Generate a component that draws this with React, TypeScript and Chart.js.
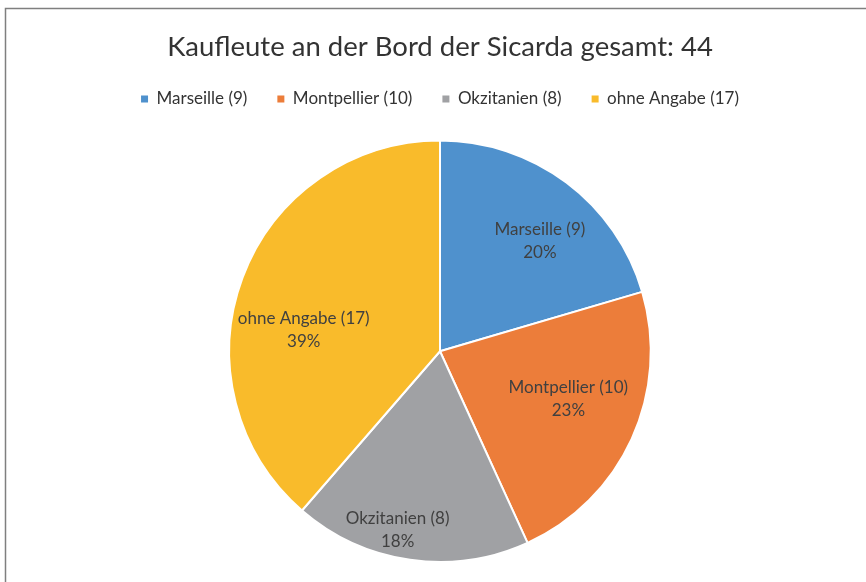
import React, { useEffect, useRef } from "react";
import { Chart, registerables } from "chart.js";

Chart.register(...registerables);

const categories = ["Marseille", "Montpellier", "Okzitanien", "ohne Angabe"];
const values = [9, 10, 8, 17];
const colors = ["#4f91cd", "#ec7d3a", "#a0a1a4", "#f9bb2b"];
const titlePrefix = "Kaufleute an der Bord der Sicarda gesamt: ";

// label placement tweaks (fraction of radius + pixel nudge), like Excel's "best fit"
const labelRadiusFrac = 0.68;
const labelNudges: [number, number][] = [
  [14, 4],
  [-2, -12],
  [-22, 37],
  [-2, 29],
];

const FONT = "Lato, 'Open Sans', sans-serif";

export default function App() {
  const ref = useRef<HTMLCanvasElement | null>(null);

  useEffect(() => {
    document.body.style.margin = "0";
    const canvas = ref.current!;
    const total = values.reduce((a, b) => a + b, 0);

    const frame = {
      id: "frame",
      beforeDraw(chart: any) {
        const ctx = chart.ctx;
        ctx.save();
        ctx.fillStyle = "#ffffff";
        ctx.fillRect(0, 0, chart.width, chart.height);
        ctx.strokeStyle = "#7f7f7f";
        ctx.lineWidth = 1.5;
        ctx.strokeRect(5.5, 8.5, chart.width + 20, chart.height + 20);
        ctx.restore();
      },
    };

    const legendSpace = {
      id: "legendSpace",
      beforeInit(chart: any) {
        const lg = chart.legend;
        if (lg) {
          const orig = lg.fit;
          lg.fit = function () {
            orig.call(this);
            this.height += 22;
          };
        }
      },
    };

    const sliceLabels = {
      id: "sliceLabels",
      afterDatasetsDraw(chart: any) {
        const ctx = chart.ctx;
        const meta = chart.getDatasetMeta(0);
        ctx.save();
        ctx.fillStyle = "#404040";
        ctx.font = `17px ${FONT}`;
        ctx.textAlign = "center";
        ctx.textBaseline = "middle";
        meta.data.forEach((arc: any, i: number) => {
          const p = arc.getProps(["x", "y", "startAngle", "endAngle", "outerRadius"], true);
          const mid = (p.startAngle + p.endAngle) / 2;
          const r = p.outerRadius * labelRadiusFrac;
          const cx = p.x + Math.cos(mid) * r + labelNudges[i][0];
          const cy = p.y + Math.sin(mid) * r + labelNudges[i][1];
          const pct = Math.round((values[i] / total) * 100) + "%";
          ctx.fillText(`${categories[i]} (${values[i]})`, cx, cy - 11.5);
          ctx.fillText(pct, cx, cy + 11.5);
        });
        ctx.restore();
      },
    };

    const chart = new Chart(canvas, {
      type: "pie",
      data: {
        labels: categories.map((c, i) => `${c} (${values[i]})`),
        datasets: [
          {
            data: values,
            backgroundColor: colors,
            borderColor: "#ffffff",
            borderWidth: 2,
          },
        ],
      },
      options: {
        responsive: false,
        animation: false,
        devicePixelRatio: 1,
        layout: { padding: { left: 14, right: 0, top: 0, bottom: 19 } },
        plugins: {
          title: {
            display: true,
            text: titlePrefix + total,
            color: "#333333",
            font: { family: FONT, size: 27.5, weight: "normal", lineHeight: 1.0 },
            padding: { top: 33, bottom: 0 },
          },
          legend: {
            display: true,
            position: "top",
            labels: {
              color: "#333333",
              font: { family: FONT, size: 17 },
              boxWidth: 7,
              boxHeight: 7,
              padding: 30,
              generateLabels(ch: any) {
                const items = Chart.overrides.pie.plugins.legend.labels.generateLabels(ch);
                return items.map((it: any) => ({ ...it, lineWidth: 0, strokeStyle: "rgba(0,0,0,0)" }));
              },
            },
          },
          tooltip: { enabled: false },
        },
      },
      plugins: [frame, legendSpace, sliceLabels],
    } as any);

    return () => chart.destroy();
  }, []);

  return (
    <div style={{ position: "absolute", left: 0, top: 0, width: 866, height: 582 }}>
      <canvas ref={ref} width={866} height={582} style={{ width: 866, height: 582 }} />
    </div>
  );
}
